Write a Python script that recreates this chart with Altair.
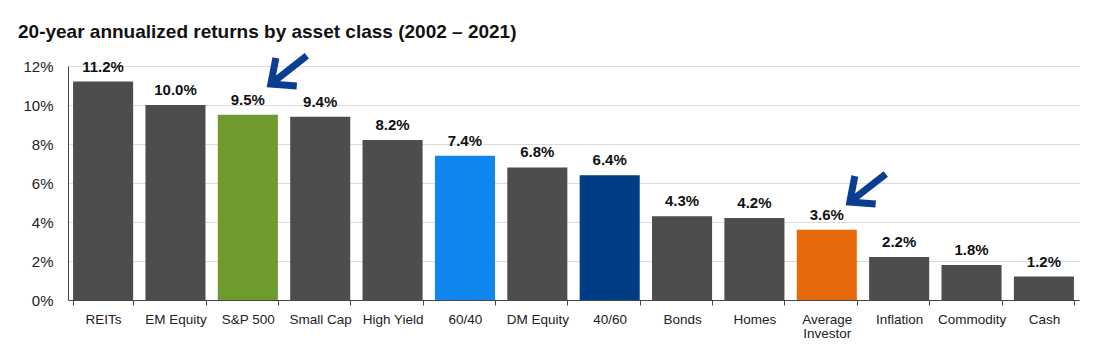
import altair as alt
import pandas as pd

categories = ["REITs", "EM Equity", "S&P 500", "Small Cap", "High Yield", "60/40",
              "DM Equity", "40/60", "Bonds", "Homes", "Average Investor",
              "Inflation", "Commodity", "Cash"]
returns = [11.2, 10.0, 9.5, 9.4, 8.2, 7.4, 6.8, 6.4, 4.3, 4.2, 3.6, 2.2, 1.8, 1.2]
y_ticks = [0, 2, 4, 6, 8, 10, 12]
arrow_cats = ["S&P 500", "Average Investor"]
arrow_y = [11.8, 5.74]

GRAY = "#4B4D4E"
bar_colors = [GRAY, GRAY, "#6F9A2E", GRAY, GRAY, "#0F87EE", GRAY, "#003C83",
              GRAY, GRAY, "#E8690B", GRAY, GRAY, GRAY]

df = pd.DataFrame({"cat": categories, "ret": returns,
                   "label": [f"{v:.1f}%" for v in returns]})
arrows = pd.DataFrame({"cat": arrow_cats, "ret": arrow_y})

FONT = "Liberation Sans"

x_enc = alt.X("cat:N", sort=categories, title=None,
              scale=alt.Scale(paddingInner=0.17, paddingOuter=0.07),
              axis=alt.Axis(labelAngle=0, tickBand="extent", ticks=True, tickSize=5,
                            tickColor="#444", domainColor="#444", labelPadding=7,
                            labelFontSize=13.5, labelFont=FONT, labelColor="#222",
                            labelLineHeight=14, labelOverlap=False,
                            labelExpr="datum.value == 'Average Investor' ? ['Average', 'Investor'] : datum.value",
                            grid=False))
y_enc = alt.Y("ret:Q", title=None,
              scale=alt.Scale(domain=[0, 12], nice=False),
              axis=alt.Axis(values=y_ticks, tickCount=7, labelExpr="datum.value + '%'", ticks=False,
                            labelPadding=15, labelFontSize=15, labelFont=FONT,
                            labelColor="#222", domainColor="#444", labelOverlap=False,
                            grid=True, gridColor="#DCDCDC", gridWidth=1))

bars = alt.Chart(df).mark_bar().encode(
    x=x_enc, y=y_enc,
    color=alt.Color("cat:N", scale=alt.Scale(domain=categories, range=bar_colors), legend=None),
)

labels = alt.Chart(df).mark_text(dy=-10, baseline="alphabetic", fontSize=15,
                                 fontWeight="bold", font=FONT, color="#111").encode(
    x=x_enc, y=y_enc, text="label:N")

arrow_path = "M -0.72 -0.67 L -1 0.78 L 0.44 0.89 M -1 0.78 L 1 -0.78"
arrow_marks = alt.Chart(arrows).mark_point(
    shape=arrow_path, filled=False, stroke="#0B3D91", strokeWidth=7, size=1296,
    opacity=1, xOffset=41, strokeCap="butt", strokeJoin="miter").encode(
    x=x_enc, y=y_enc)

chart = alt.layer(bars, labels, arrow_marks).properties(
    width=1011, height=234,
    title=alt.TitleParams("20-year annualized returns by asset class (2002 – 2021)",
                          anchor="start", frame="group", dx=-50, dy=18, fontSize=19,
                          font=FONT, fontWeight="bold", color="#111", offset=18),
    padding={"left": 60, "top": 58, "right": 17, "bottom": 45},
    autosize=alt.AutoSizeParams(type="none"),
    background="white",
).configure_view(stroke=None)

chart.save("out.html", embed_options={"renderer": "svg", "actions": False})
